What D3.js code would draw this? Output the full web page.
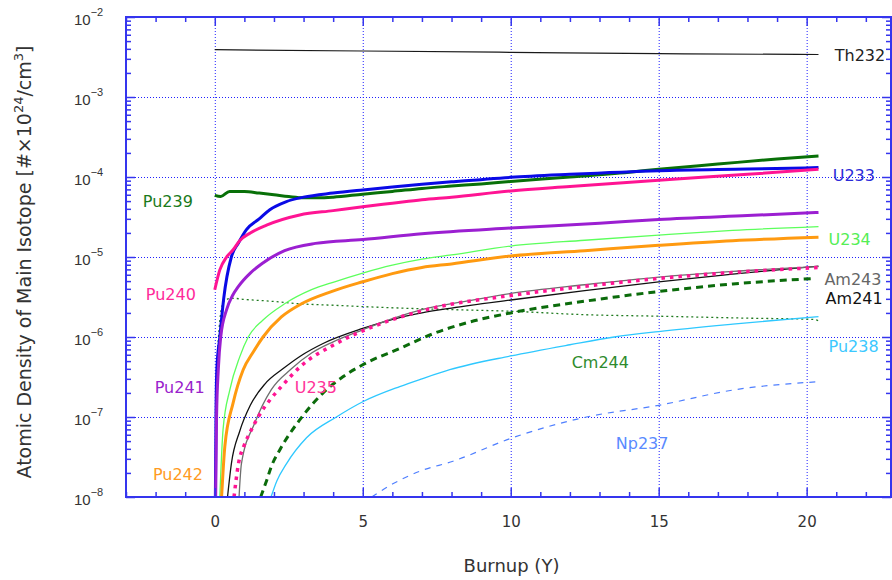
<!DOCTYPE html>
<html>
<head>
<meta charset="utf-8">
<script src="https://cdn.jsdelivr.net/npm/d3@7"></script>
<style>
  html, body { margin: 0; padding: 0; background: #fff; }
  svg { display: block; font-family: "DejaVu Sans", Verdana, sans-serif; }
</style>
</head>
<body>
<svg id="chart" width="892" height="580"></svg>
<script>
// Atomic density (x1e24 atoms/cm^3) of the main isotopes versus burnup time (years).
// Each series is a list of [burnup, density] pairs.
const th232 = [[0, 3.9e-3], [5, 3.76e-3], [10, 3.62e-3], [15, 3.48e-3], [20.4, 3.4e-3]];

const pu239 = [[0, 5.9e-5], [0.2, 5.7e-5], [0.5, 6.6e-5], [1, 6.6e-5], [1.5, 6.3e-5], [2, 6.0e-5],
  [2.5, 5.7e-5], [3, 5.5e-5], [3.5, 5.5e-5], [4, 5.6e-5], [5, 6.1e-5], [6, 6.6e-5], [7, 7.2e-5],
  [8, 7.7e-5], [9, 8.2e-5], [10, 8.8e-5], [12, 1.0e-4], [14, 1.15e-4], [15, 1.25e-4],
  [17, 1.45e-4], [19, 1.68e-4], [20.4, 1.83e-4]];

const u233 = [[0.02, 1e-8], [0.04, 1e-7], [0.07, 4e-7], [0.17, 1e-6], [0.3, 3e-6], [0.56, 1e-5],
  [0.8, 1.5e-5], [1.07, 2.2e-5], [1.5, 3.0e-5], [1.86, 3.9e-5], [2.4, 4.9e-5], [3, 5.6e-5],
  [4, 6.3e-5], [5, 6.9e-5], [6, 7.5e-5], [7, 8.1e-5], [8, 8.7e-5], [10, 9.9e-5], [12, 1.08e-4],
  [15, 1.2e-4], [18, 1.26e-4], [20.4, 1.31e-4]];

const pu240 = [[0, 3.9e-6], [0.17, 6.9e-6], [0.4, 1.0e-5], [0.62, 1.23e-5], [0.84, 1.6e-5],
  [1.2, 2.0e-5], [1.75, 2.5e-5], [2.87, 3.35e-5], [4, 3.8e-5], [5, 4.25e-5], [6, 4.7e-5],
  [7, 5.2e-5], [8, 5.6e-5], [10, 6.7e-5], [12, 7.6e-5], [15, 9.1e-5], [18, 1.08e-4], [20.4, 1.25e-4]];

const pu241 = [[0.03, 1e-8], [0.06, 1e-7], [0.12, 4e-7], [0.2, 1e-6], [0.4, 2.2e-6], [0.6, 3.3e-6],
  [0.8, 4.3e-6], [1.2, 6.3e-6], [1.6, 8.3e-6], [2.36, 1.2e-5], [3.4, 1.48e-5], [5, 1.65e-5],
  [7, 1.95e-5], [10, 2.3e-5], [13, 2.65e-5], [15, 2.95e-5], [18, 3.3e-5], [20.4, 3.6e-5]];

const u234 = [[0.17, 1e-8], [0.28, 7e-8], [0.51, 2.2e-7], [0.84, 5.6e-7], [1.13, 1.0e-6],
  [1.63, 1.63e-6], [2.36, 2.6e-6], [3.27, 3.9e-6], [4.05, 4.9e-6], [5, 6.3e-6], [6, 7.9e-6],
  [7, 9.4e-6], [8, 1.06e-5], [10, 1.37e-5], [12.5, 1.62e-5], [15, 1.88e-5], [17.5, 2.15e-5], [20.4, 2.4e-5]];

const pu242 = [[0.23, 1e-8], [0.34, 4.3e-8], [0.62, 1.5e-7], [0.96, 3.9e-7], [1.3, 6.5e-7],
  [1.63, 1.0e-6], [2.25, 1.78e-6], [2.93, 2.6e-6], [3.94, 3.7e-6], [5, 4.9e-6], [6, 6.2e-6],
  [7, 7.4e-6], [8, 8.2e-6], [10, 1.03e-5], [12.5, 1.2e-5], [15, 1.4e-5], [17.5, 1.6e-5], [20.4, 1.77e-5]];

const am243 = [[0.82, 1e-8], [0.9, 2.6e-8], [1.35, 8.4e-8], [1.91, 2.2e-7], [2.59, 4.0e-7],
  [3.27, 6.3e-7], [4, 8.7e-7], [5, 1.23e-6], [6, 1.7e-6], [7, 2.2e-6], [8.5, 2.8e-6], [10, 3.5e-6],
  [12.5, 4.5e-6], [15, 5.6e-6], [17.5, 6.6e-6], [20.4, 7.6e-6]];

const am241 = [[0.43, 1e-8], [0.56, 2.6e-8], [0.84, 6.6e-8], [1.2, 1.4e-7], [1.7, 2.6e-7],
  [2.3, 4.0e-7], [2.9, 5.8e-7], [3.66, 8.3e-7], [5, 1.28e-6], [6.25, 1.75e-6], [7, 2.0e-6],
  [8, 2.3e-6], [10, 2.9e-6], [12.5, 3.8e-6], [15, 4.9e-6], [17.5, 6.1e-6], [20.4, 7.7e-6]];

const u235 = [[0.65, 1e-8], [0.8, 2.6e-8], [1.0, 4.5e-8], [1.2, 6.5e-8], [1.5, 1.05e-7],
  [1.9, 1.7e-7], [2.25, 2.4e-7], [2.93, 4.4e-7], [4.0, 7.9e-7], [5.35, 1.35e-6], [7.38, 2.3e-6],
  [10, 3.3e-6], [12.5, 4.3e-6], [15, 5.4e-6], [17.5, 6.4e-6], [20.4, 7.4e-6]];

const cm244 = [[1.55, 1e-8], [1.75, 1.6e-8], [1.91, 2.4e-8], [2.2, 3.9e-8], [2.87, 9.2e-8],
  [3.66, 2.0e-7], [4.34, 3.2e-7], [5, 4.5e-7], [6.25, 7.2e-7], [7.38, 1.1e-6], [8.5, 1.5e-6],
  [10, 2.0e-6], [12.5, 2.8e-6], [15, 3.7e-6], [17.5, 4.6e-6], [20.3, 5.4e-6]];

const pu238 = [[1.9, 1e-8], [2.1, 1.6e-8], [2.42, 2.6e-8], [3.1, 5.5e-8], [4.11, 1.0e-7],
  [5, 1.55e-7], [6.25, 2.4e-7], [7, 3.0e-7], [7.94, 3.9e-7], [10, 5.8e-7], [12, 8.0e-7],
  [13.5, 1.0e-6], [15, 1.17e-6], [17.5, 1.45e-6], [20.4, 1.8e-6]];

const np237 = [[5.3, 1e-8], [6, 1.45e-8], [6.93, 2.1e-8], [8.05, 2.8e-8], [10, 5.4e-8],
  [12.56, 1.0e-7], [15, 1.4e-7], [17.6, 2.2e-7], [20.3, 2.75e-7]];

const pa233 = [[0.03, 1e-8], [0.06, 1e-7], [0.1, 6e-7], [0.15, 1.3e-6], [0.22, 2.2e-6],
  [0.35, 2.9e-6], [0.6, 3.05e-6], [1, 2.95e-6], [1.9, 2.8e-6], [2.87, 2.6e-6], [3.94, 2.5e-6],
  [5, 2.4e-6], [6.25, 2.3e-6], [8, 2.2e-6], [10, 2.1e-6], [12.5, 1.9e-6], [15, 1.82e-6],
  [18, 1.72e-6], [20.2, 1.66e-6], [20.4, 1.6e-6]];

// Axis ticks
const xMajorTicks = [0, 5, 10, 15, 20];
const xMinorTicks = d3.range(-3, 23).filter(v => v % 5 !== 0);
const yDecades = [-8, -7, -6, -5, -4, -3, -2];

// Isotope labels, anchored in data units [burnup, density]
const labels = [
  { text: "Th232", at: [20.95, 3.35e-3], color: "#222222" },
  { text: "U233",  at: [20.88, 1.06e-4], color: "#2b2bd8" },
  { text: "U234",  at: [20.74, 1.68e-5], color: "#55ee55" },
  { text: "Am243", at: [20.6, 5.3e-6],   color: "#666666" },
  { text: "Am241", at: [20.64, 3.07e-6], color: "#111111" },
  { text: "Pu238", at: [20.74, 7.7e-7],  color: "#3cc8ff" },
  { text: "Pu239", at: [-2.43, 5.0e-5],  color: "#1a7a1a" },
  { text: "Pu240", at: [-2.33, 3.45e-6], color: "#ff2a9a" },
  { text: "Pu241", at: [-2.03, 2.34e-7], color: "#9a22cc" },
  { text: "Pu242", at: [-2.09, 1.94e-8], color: "#ff9a22" },
  { text: "U235",  at: [2.70, 2.37e-7],  color: "#ff3399" },
  { text: "Cm244", at: [12.06, 4.87e-7], color: "#2e8b2e" },
  { text: "Np237", at: [13.55, 4.73e-8], color: "#5a8aff" }
];

const series = [
  { key: "Th232", data: th232, color: "#1a1a1a", width: 1.2 },
  { key: "Pa233", data: pa233, color: "#1f7a1f", width: 1.3, dash: "2,3" },
  { key: "Pu239", data: pu239, color: "#087008", width: 3 },
  { key: "U233",  data: u233,  color: "#0a0ae6", width: 3 },
  { key: "Pu240", data: pu240, color: "#ff1493", width: 3 },
  { key: "Pu241", data: pu241, color: "#9b1fd1", width: 3 },
  { key: "U234",  data: u234,  color: "#5cff5c", width: 1.3 },
  { key: "Pu242", data: pu242, color: "#ff9a10", width: 3 },
  { key: "Am241", data: am241, color: "#111111", width: 1.3 },
  { key: "Am243", data: am243, color: "#6e6e6e", width: 1.3 },
  { key: "U235",  data: u235,  color: "#ff1493", width: 3.5, dash: "3.5,5" },
  { key: "Cm244", data: cm244, color: "#0b6b0b", width: 3, dash: "7,5" },
  { key: "Pu238", data: pu238, color: "#2ec8ff", width: 1.3 },
  { key: "Np237", data: np237, color: "#4f7fff", width: 1.2, dash: "6,6" }
];

const plot = { left: 126, right: 891, top: 17, bottom: 497 };
const axisColor = "#3535ee";
const gridColor = "#1f1fff";

const svg = d3.select("#chart");

const x = d3.scaleLinear().domain([-3, 22.85]).range([plot.left, plot.right]);
const y = d3.scaleLog().domain([1e-8, 1e-2]).range([plot.bottom, plot.top]);

const minorY = [];
yDecades.slice(0, -1).forEach(e => {
  for (let m = 2; m <= 9; m++) minorY.push(m * Math.pow(10, e));
});
const decadeValues = yDecades.map(e => Math.pow(10, e));

// Dotted grid
const gridW = plot.right - plot.left, gridH = plot.bottom - plot.top;
const gx = svg.append("g").attr("transform", `translate(0,${plot.bottom})`)
  .call(d3.axisBottom(x).tickValues(xMajorTicks).tickSize(-gridH).tickFormat(""));
const gy = svg.append("g").attr("transform", `translate(${plot.left},0)`)
  .call(d3.axisLeft(y).tickValues(decadeValues.slice(1, -1)).tickSize(-gridW).tickFormat(""));
[gx, gy].forEach(g => {
  g.select(".domain").remove();
  g.selectAll("line").attr("stroke", gridColor).attr("stroke-width", 1)
    .attr("stroke-dasharray", "1,2");
});

// Series
svg.append("clipPath").attr("id", "plotClip").append("rect")
  .attr("x", plot.left).attr("y", plot.top).attr("width", gridW).attr("height", gridH);

const line = d3.line().x(d => x(d[0])).y(d => y(d[1])).curve(d3.curveMonotoneX);

svg.append("g").attr("clip-path", "url(#plotClip)")
  .selectAll("path").data(series).join("path")
  .attr("d", d => line(d.data))
  .attr("fill", "none")
  .attr("stroke", d => d.color)
  .attr("stroke-width", d => d.width)
  .attr("stroke-dasharray", d => d.dash || null)
  .attr("stroke-linejoin", "round");

// Frame and inward ticks on all four sides
function styleAxis(g) {
  g.select(".domain").remove();
  g.selectAll("line").attr("stroke", axisColor).attr("stroke-width", 1.5);
  g.selectAll("text").attr("fill", "#333").attr("font-size", 15)
    .attr("font-family", "DejaVu Sans, Verdana, sans-serif");
}

const bottomMajor = svg.append("g").attr("transform", `translate(0,${plot.bottom})`)
  .call(d3.axisBottom(x).tickValues(xMajorTicks).tickSize(-9).tickPadding(19).tickFormat(d3.format("d")));
styleAxis(bottomMajor);
const bottomMinor = svg.append("g").attr("transform", `translate(0,${plot.bottom})`)
  .call(d3.axisBottom(x).tickValues(xMinorTicks).tickSize(-5).tickFormat(""));
styleAxis(bottomMinor);
const topMajor = svg.append("g").attr("transform", `translate(0,${plot.top})`)
  .call(d3.axisTop(x).tickValues(xMajorTicks).tickSize(-9).tickFormat(""));
styleAxis(topMajor);
const topMinor = svg.append("g").attr("transform", `translate(0,${plot.top})`)
  .call(d3.axisTop(x).tickValues(xMinorTicks).tickSize(-5).tickFormat(""));
styleAxis(topMinor);

const leftMajor = svg.append("g").attr("transform", `translate(${plot.left},0)`)
  .call(d3.axisLeft(y).tickValues(decadeValues).tickSize(-9).tickFormat(""));
styleAxis(leftMajor);
const leftMinor = svg.append("g").attr("transform", `translate(${plot.left},0)`)
  .call(d3.axisLeft(y).tickValues(minorY).tickSize(-5).tickFormat(""));
styleAxis(leftMinor);
const rightMajor = svg.append("g").attr("transform", `translate(${plot.right},0)`)
  .call(d3.axisRight(y).tickValues(decadeValues).tickSize(-9).tickFormat(""));
styleAxis(rightMajor);
const rightMinor = svg.append("g").attr("transform", `translate(${plot.right},0)`)
  .call(d3.axisRight(y).tickValues(minorY).tickSize(-5).tickFormat(""));
styleAxis(rightMinor);

// Power-of-ten labels on the density axis
leftMajor.selectAll(".tick").each(function (d) {
  const t = d3.select(this).append("text")
    .attr("x", -52).attr("y", 7)
    .attr("text-anchor", "start")
    .attr("fill", "#333").attr("font-size", 15);
  t.append("tspan").text("10");
  t.append("tspan").attr("dy", -9).attr("font-size", 11)
    .text("\u2212" + Math.abs(Math.round(Math.log10(d))));
});

svg.append("rect")
  .attr("x", plot.left).attr("y", plot.top).attr("width", gridW).attr("height", gridH)
  .attr("fill", "none").attr("stroke", axisColor).attr("stroke-width", 2)
  .attr("shape-rendering", "crispEdges");

// Isotope labels
svg.append("g").selectAll("text").data(labels).join("text")
  .attr("x", d => x(d.at[0]))
  .attr("y", d => y(d.at[1]))
  .attr("dy", "0.36em")
  .attr("font-size", 16)
  .attr("fill", d => d.color)
  .text(d => d.text);

// Axis titles
svg.append("text")
  .attr("x", (plot.left + plot.right) / 2 + 3).attr("y", 572)
  .attr("text-anchor", "middle").attr("font-size", 18).attr("fill", "#333")
  .text("Burnup (Y)");

const yTitle = svg.append("text")
  .attr("transform", "translate(31,262) rotate(-90)")
  .attr("text-anchor", "middle").attr("font-size", 19).attr("fill", "#333");
yTitle.append("tspan").text("Atomic Density of Main Isotope [#\u00d710");
yTitle.append("tspan").attr("dy", -8).attr("font-size", 13).text("24");
yTitle.append("tspan").attr("dy", 8).text("/cm");
yTitle.append("tspan").attr("dy", -8).attr("font-size", 13).text("3");
yTitle.append("tspan").attr("dy", 8).text("]");
</script>
</body>
</html>
